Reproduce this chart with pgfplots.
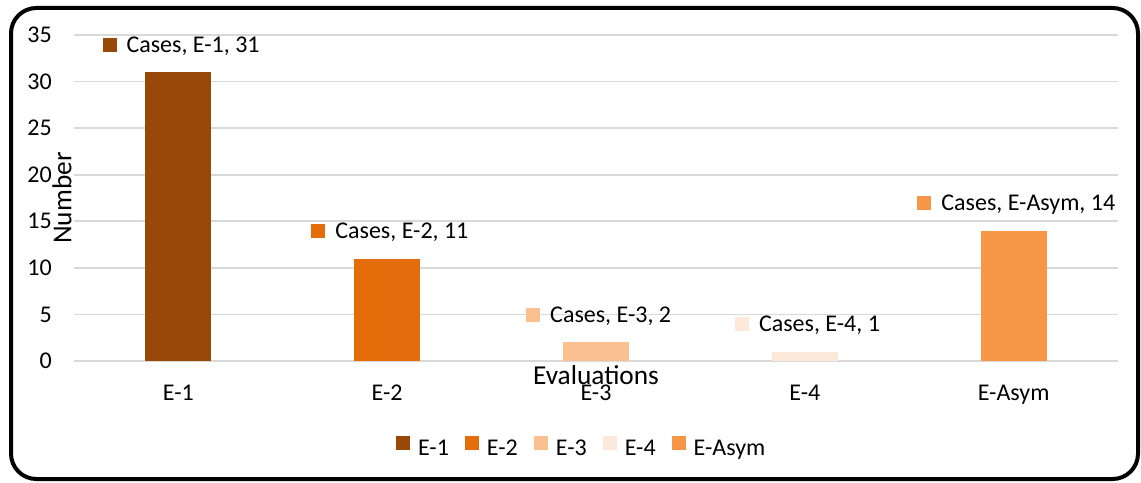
\documentclass[border=0pt]{standalone}
\usepackage{fontspec}
\setmainfont{Carlito}
\usepackage{pgfplots}
\pgfplotsset{compat=1.18}
\definecolor{c1}{HTML}{984807}
\definecolor{c2}{HTML}{E46C0A}
\definecolor{c3}{HTML}{FAC090}
\definecolor{c4}{HTML}{FDE9D9}
\definecolor{c5}{HTML}{F79646}
\definecolor{gridc}{HTML}{D9D9D9}
\newcommand{\lab}[2]{\textcolor{#1}{\rule[0.5pt]{10.5pt}{10.5pt}}\hspace{7.5pt}Cases, #2}
\begin{document}
\begin{tikzpicture}[font=\fontsize{18}{21}\selectfont]
\useasboundingbox (0,0) rectangle (855.75pt,361.5pt);
\draw[line width=3pt, rounded corners=19pt] (8.25pt,2.25pt) rectangle (853.5pt,355.5pt);
\begin{axis}[
  at={(55.5pt,90.75pt)}, anchor=south west,
  scale only axis, width=783pt, height=244.5pt,
  xmin=-0.5, xmax=4.5, ymin=0, ymax=35,
  ytick={0,5,...,35},
  xtick={0,1,2,3,4}, xticklabels={E-1,E-2,E-3,E-4,E-Asym},
  /pgf/number format/assume math mode=true,
  axis line style={draw=none},
  major tick length=0pt,
  ymajorgrids, grid style={gridc, line width=1.3pt},
  ybar, bar width=49.5pt, bar shift=0pt,
  clip=false,
  yticklabel style={inner sep=0pt, anchor=east, xshift=-16.5pt},
  xticklabel style={inner sep=0pt, anchor=north, yshift=-18pt},
  xlabel={Evaluations},
  xlabel style={at={(axis description cs:0.5,0)}, anchor=north, inner sep=0pt, yshift=-3pt, font=\fontsize{20.5}{24}\selectfont},
  ylabel={Number},
  ylabel style={at={(axis description cs:0,0.5)}, anchor=center, inner sep=0pt, yshift=9pt, font=\fontsize{20.5}{24}\selectfont},
  every node near coord/.append style={anchor=center, inner sep=0pt, yshift=19.5pt, xshift=2pt},
  legend style={at={(axis description cs:0.4866,-0.268)}, anchor=center, draw=none,
    /tikz/every even column/.append style={column sep=10pt},
    /tikz/every odd column/.append style={column sep=4pt}},
  legend columns=-1,
  legend image code/.code={\fill[#1] (0pt,-1pt) rectangle (10.5pt,9.5pt);},
]
\addplot[fill=c1, draw=none, nodes near coords={\lab{c1}{E-1, 31}}] coordinates {(0,31)};
\addplot[fill=c2, draw=none, nodes near coords={\lab{c2}{E-2, 11}}] coordinates {(1,11)};
\addplot[fill=c3, draw=none, nodes near coords={\lab{c3}{E-3, 2}}] coordinates {(2,2)};
\addplot[fill=c4, draw=none, nodes near coords={\lab{c4}{E-4, 1}}] coordinates {(3,1)};
\addplot[fill=c5, draw=none, nodes near coords={\lab{c5}{E-Asym, 14}}] coordinates {(4,14)};
\legend{E-1,E-2,E-3,E-4,E-Asym}
\end{axis}
\end{tikzpicture}
\end{document}
